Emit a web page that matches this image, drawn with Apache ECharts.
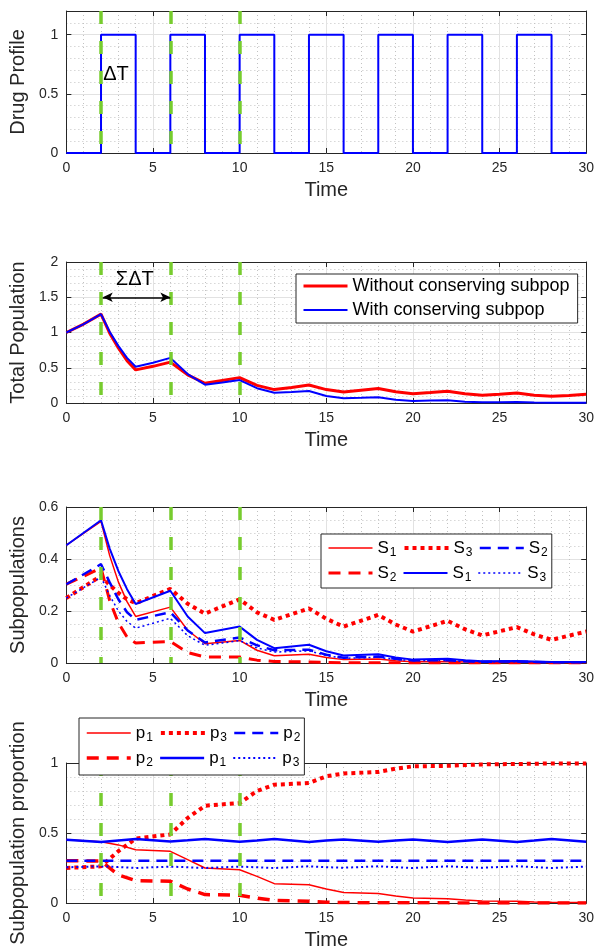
<!DOCTYPE html>
<html>
<head>
<meta charset="utf-8">
<script src="https://cdn.jsdelivr.net/npm/echarts@6/dist/echarts.min.js"></script>
<style>
  html, body { margin: 0; padding: 0; background: #fff; }
  #chart { width: 597px; height: 952px; }
</style>
</head>
<body>
<div id="chart"></div>
<script>
// dose start times (green dashed markers)
const doseTimes = [2, 6, 10];

// panel 1: drug on/off profile
const drugTime = [0, 2, 4, 6, 8, 10, 12, 14, 16, 18, 20, 22, 24, 26, 28, 30];
const drugDose = [0, 1, 0, 1, 0, 1, 0, 1, 0, 1, 0, 1, 0, 1, 0, 0];

// panel 2: total population
const totalTime = [0, 1, 2, 2.5, 3, 3.5, 4, 5, 6, 7, 8, 9, 10, 11, 12, 13, 14, 15, 16, 17, 18, 19, 20, 21, 22, 23, 24, 25, 26, 27, 28, 29, 30];
const totalWithout = [1.0, 1.12, 1.26, 0.99, 0.78, 0.60, 0.47, 0.52, 0.58, 0.40, 0.28, 0.32, 0.36, 0.25, 0.19, 0.22, 0.255, 0.19, 0.155, 0.18, 0.205, 0.16, 0.13, 0.148, 0.167, 0.13, 0.11, 0.125, 0.143, 0.11, 0.095, 0.108, 0.124];
const totalWith = [1.0, 1.12, 1.26, 1.01, 0.81, 0.64, 0.515, 0.57, 0.64, 0.41, 0.26, 0.29, 0.325, 0.21, 0.145, 0.155, 0.17, 0.10, 0.067, 0.073, 0.08, 0.045, 0.03, 0.034, 0.038, 0.018, 0.01, 0.012, 0.014, 0.008, 0.005, 0.005, 0.005];

// panel 3: subpopulations
const subTime = [0, 2, 2.5, 3, 3.5, 4, 6, 7, 8, 10, 11, 12, 14, 15, 16, 18, 19, 20, 22, 23, 24, 26, 27, 28, 30];
const redS1 = [0.453, 0.545, 0.413, 0.312, 0.236, 0.179, 0.215, 0.126, 0.074, 0.087, 0.049, 0.028, 0.034, 0.021, 0.013, 0.015, 0.009, 0.005, 0.006, 0.004, 0.002, 0.002, 0.0015, 0.001, 0.001];
const redS2 = [0.303, 0.365, 0.24, 0.155, 0.10, 0.077, 0.083, 0.04, 0.023, 0.023, 0.011, 0.006, 0.004, 0.002, 0.001, 0.001, 0.001, 0, 0, 0, 0, 0, 0, 0, 0];
const redS3 = [0.25, 0.335, 0.30, 0.27, 0.245, 0.23, 0.285, 0.228, 0.19, 0.245, 0.195, 0.166, 0.21, 0.17, 0.14, 0.185, 0.148, 0.121, 0.162, 0.13, 0.106, 0.138, 0.11, 0.089, 0.121];
const blueS1 = [0.453, 0.549, 0.44, 0.354, 0.284, 0.227, 0.278, 0.179, 0.115, 0.14, 0.089, 0.057, 0.07, 0.045, 0.029, 0.034, 0.021, 0.013, 0.016, 0.011, 0.007, 0.008, 0.006, 0.004, 0.004];
const blueS2 = [0.303, 0.38, 0.31, 0.245, 0.195, 0.166, 0.195, 0.125, 0.079, 0.098, 0.068, 0.049, 0.051, 0.032, 0.02, 0.025, 0.016, 0.01, 0.011, 0.007, 0.005, 0.006, 0.004, 0.003, 0.003];
const blueS3 = [0.25, 0.33, 0.26, 0.20, 0.16, 0.134, 0.172, 0.105, 0.068, 0.086, 0.058, 0.042, 0.047, 0.029, 0.018, 0.022, 0.014, 0.009, 0.01, 0.006, 0.004, 0.005, 0.003, 0.002, 0.002];

// panel 4: subpopulation proportions
const propTime = [0, 2, 3, 4, 6, 7, 8, 10, 11, 12, 14, 15, 16, 18, 19, 20, 22, 23, 24, 26, 27, 28, 30];
const redP1 = [0.452, 0.438, 0.415, 0.381, 0.369, 0.31, 0.25, 0.238, 0.19, 0.138, 0.131, 0.10, 0.075, 0.068, 0.05, 0.035, 0.03, 0.022, 0.015, 0.012, 0.008, 0.005, 0.004];
const redP2 = [0.302, 0.30, 0.20, 0.16, 0.155, 0.10, 0.06, 0.055, 0.035, 0.019, 0.012, 0.006, 0.003, 0.002, 0.001, 0.001, 0.001, 0, 0, 0, 0, 0, 0];
const redP3 = [0.25, 0.262, 0.37, 0.46, 0.49, 0.607, 0.695, 0.714, 0.80, 0.845, 0.857, 0.905, 0.925, 0.936, 0.96, 0.976, 0.98, 0.985, 0.99, 0.993, 0.995, 0.997, 0.997];
const blueP1 = [0.452, 0.436, 0.447, 0.457, 0.44, 0.448, 0.457, 0.438, 0.447, 0.457, 0.436, 0.446, 0.454, 0.438, 0.446, 0.454, 0.436, 0.445, 0.454, 0.436, 0.446, 0.457, 0.438];
const blueP2 = [0.302, 0.302, 0.302, 0.302, 0.302, 0.302, 0.302, 0.302, 0.302, 0.302, 0.302, 0.302, 0.302, 0.302, 0.302, 0.302, 0.302, 0.302, 0.302, 0.302, 0.302, 0.302, 0.302];
const blueP3 = [0.255, 0.262, 0.257, 0.25, 0.26, 0.255, 0.25, 0.26, 0.255, 0.25, 0.262, 0.256, 0.252, 0.262, 0.256, 0.25, 0.262, 0.256, 0.252, 0.262, 0.256, 0.25, 0.26];

const FONT = '"Liberation Sans", Arial, Helvetica, sans-serif';
const AX = '#262626';
const GREEN = '#77cc2e';
const RED = '#ff0000';
const BLUE = '#0000ff';

const zip = (t, v) => t.map((x, i) => [x, v[i]]);

// panel layout + y scales
const panels = [
  { top: 11,  height: 142, ymax: 1.2, major: 0.5, minor: 0.1,  label: 'Drug Profile' },
  { top: 262, height: 141, ymax: 2,   major: 0.5, minor: 0.1,  label: 'Total Population' },
  { top: 507, height: 156, ymax: 0.6, major: 0.2, minor: 0.05, label: 'Subpopulations' },
  { top: 763, height: 140, ymax: 1,   major: 0.5, minor: 0.1,  label: 'Subpopulation proportion' }
];

const grid = [], xAxis = [], yAxis = [];
panels.forEach((p, g) => {
  grid.push({ left: 64, right: 8, top: p.top, height: p.height });
  const tick = { show: true, inside: true, length: 5, lineStyle: { color: AX, width: 1 } };
  const line = { show: true, onZero: false, lineStyle: { color: AX, width: 1 } };
  xAxis.push({
    gridIndex: g, type: 'value', min: 0, max: 30, interval: 5, position: 'bottom',
    axisLine: line, axisTick: tick,
    axisLabel: { color: AX, fontSize: 14, margin: 8, fontFamily: FONT },
    splitLine: { show: true, lineStyle: { color: '#e2e2e2', width: 1 } },
    minorTick: { show: false, splitNumber: 5 },
    minorSplitLine: { show: true, lineStyle: { color: '#c2c2c2', width: 1, type: [1, 3] } },
    name: 'Time', nameLocation: 'middle', nameGap: 27,
    nameTextStyle: { color: AX, fontSize: 20, fontFamily: FONT }
  });
  xAxis.push({
    gridIndex: g, type: 'value', min: 0, max: 30, interval: 5, position: 'top',
    axisLine: line, axisTick: tick, axisLabel: { show: false }, splitLine: { show: false }
  });
  yAxis.push({
    gridIndex: g, type: 'value', min: 0, max: p.ymax, interval: p.major, position: 'left',
    axisLine: line, axisTick: tick,
    axisLabel: { color: AX, fontSize: 14, margin: 8, fontFamily: FONT, showMaxLabel: g !== 0 },
    splitLine: { show: true, lineStyle: { color: '#e2e2e2', width: 1 } },
    name: p.label, nameLocation: 'middle', nameGap: 34,
    nameTextStyle: { color: AX, fontSize: 20, fontFamily: FONT }
  });
  yAxis.push({
    gridIndex: g, type: 'value', min: 0, max: p.ymax, interval: p.major, position: 'right',
    axisLine: line, axisTick: tick, axisLabel: { show: false }, splitLine: { show: false }
  });
  // minor grid: dotted lines, transparent where a major line sits
  const per = Math.round(p.major / p.minor);
  const cols = ['rgba(0,0,0,0)'];
  for (let i = 1; i < per; i++) cols.push('#c2c2c2');
  yAxis.push({
    gridIndex: g, type: 'value', min: 0, max: p.ymax, interval: p.minor, position: 'left',
    axisLine: { show: false }, axisTick: { show: false }, axisLabel: { show: false },
    splitLine: { show: true, lineStyle: { color: cols, width: 1, type: [1, 3] } }
  });
});

function doseMarks(ymax) {
  return {
    silent: true, symbol: ['none', 'none'], label: { show: false },
    lineStyle: { color: GREEN, width: 3.5, type: [13, 17], cap: 'butt' },
    emphasis: { disabled: true },
    data: doseTimes.map(t => [{ coord: [t, ymax] }, { coord: [t, 0] }])
  };
}

function textMark(text, coord) {
  return {
    silent: true, symbol: 'rect', symbolSize: 1,
    itemStyle: { color: 'rgba(0,0,0,0)' },
    label: { show: true, position: 'inside', formatter: text, color: '#000', fontSize: 20, fontFamily: FONT },
    data: [{ coord: coord }]
  };
}

function ln(g, name, t, v, color, width, type, extra) {
  return Object.assign({
    type: 'line', name: name, xAxisIndex: 2 * g, yAxisIndex: 3 * g,
    data: zip(t, v), symbol: 'none', showSymbol: false, animation: false,
    lineStyle: { color: color, width: width, type: type || 'solid', cap: 'butt' },
    itemStyle: { color: color },
    emphasis: { disabled: true }
  }, extra || {});
}

const series = [
  ln(0, 'drug', drugTime, drugDose, BLUE, 2, 'solid', {
    step: 'end',
    markLine: doseMarks(1.2),
    markPoint: textMark('ΔT', [2.86, 0.66])
  }),

  ln(1, 'Without conserving subpop', totalTime, totalWithout, RED, 3, 'solid', {
    markLine: doseMarks(2)
  }),
  ln(1, 'With conserving subpop', totalTime, totalWith, BLUE, 2, 'solid', {
    markPoint: textMark('ΣΔT', [3.95, 1.75]),
    markLine: {
      silent: true, symbol: ['arrow', 'arrow'], symbolSize: [7, 10], label: { show: false },
      lineStyle: { color: '#000', width: 1.5, type: 'solid' },
      data: [[{ coord: [2.1, 1.5] }, { coord: [6, 1.5] }]]
    }
  }),

  ln(2, 'rS1', subTime, redS1, RED, 1.5, 'solid', { markLine: doseMarks(0.6) }),
  ln(2, 'rS2', subTime, redS2, RED, 3, [12, 8]),
  ln(2, 'rS3', subTime, redS3, RED, 4, [4, 4]),
  ln(2, 'bS1', subTime, blueS1, BLUE, 2, 'solid'),
  ln(2, 'bS2', subTime, blueS2, BLUE, 2.5, [11, 7]),
  ln(2, 'bS3', subTime, blueS3, BLUE, 1.5, [2, 3]),

  ln(3, 'rp1', propTime, redP1, RED, 1.5, 'solid', { markLine: doseMarks(1) }),
  ln(3, 'rp2', propTime, redP2, RED, 3.5, [12, 8]),
  ln(3, 'rp3', propTime, redP3, RED, 4, [4, 4]),
  ln(3, 'bp1', propTime, blueP1, BLUE, 2.5, 'solid'),
  ln(3, 'bp2', propTime, blueP2, BLUE, 2.5, [11, 7]),
  ln(3, 'bp3', propTime, blueP3, BLUE, 2, [2, 3])
];

// S1 / p1 style labels with a lowered subscript
const subRich = {
  m: { fontSize: 17, lineHeight: 16, fontFamily: FONT, color: '#000' },
  s: { fontSize: 12, lineHeight: 6, fontFamily: FONT, color: '#000', padding: [10, 3, 0, 1] }
};
const subFormatter = name => '{m|' + (name[1] === 'S' ? 'S' : 'p') + '}{s|' + name[2] + '}';

// legend entries: line only, no marker
function legendItem(name, width) {
  return { name: name, lineStyle: { width: width }, itemStyle: { color: 'rgba(0,0,0,0)', borderWidth: 0, opacity: 0 } };
}

const legend = [
  {
    selectedMode: false, orient: 'vertical', left: 296, top: 274, z: 10,
    itemWidth: 44, itemHeight: 18, itemGap: 6, padding: [3, 8, 4, 6],
    backgroundColor: '#fff', borderColor: AX, borderWidth: 1, borderRadius: 0,
    textStyle: { color: '#000', fontSize: 18, fontFamily: FONT },
    data: [legendItem('Without conserving subpop', 3), legendItem('With conserving subpop', 2)]
  },
  {
    selectedMode: false, orient: 'horizontal', left: 321, top: 534, width: 235, z: 10,
    itemWidth: 44, itemHeight: 16, itemGap: 3, padding: [3, 1, 4, 6],
    backgroundColor: '#fff', borderColor: AX, borderWidth: 1, borderRadius: 0,
    formatter: subFormatter, textStyle: { rich: subRich },
    data: [legendItem('rS1', 1.5), legendItem('rS3', 4), legendItem('bS2', 2.5),
           legendItem('rS2', 3), legendItem('bS1', 2), legendItem('bS3', 1.5)]
  },
  {
    selectedMode: false, orient: 'horizontal', left: 79, top: 718, width: 235, z: 10,
    itemWidth: 44, itemHeight: 16, itemGap: 3, padding: [4, 1, 6, 6],
    backgroundColor: '#fff', borderColor: AX, borderWidth: 1, borderRadius: 0,
    formatter: subFormatter, textStyle: { rich: subRich },
    data: [legendItem('rp1', 1.5), legendItem('rp3', 4), legendItem('bp2', 2.5),
           legendItem('rp2', 3.5), legendItem('bp1', 2.5), legendItem('bp3', 2)]
  }
];

const chart = echarts.init(document.getElementById('chart'), null, { renderer: 'canvas' });
chart.setOption({
  animation: false,
  backgroundColor: '#fff',
  textStyle: { fontFamily: FONT },
  grid: grid,
  xAxis: xAxis,
  yAxis: yAxis,
  legend: legend,
  series: series
});
</script>
</body>
</html>
